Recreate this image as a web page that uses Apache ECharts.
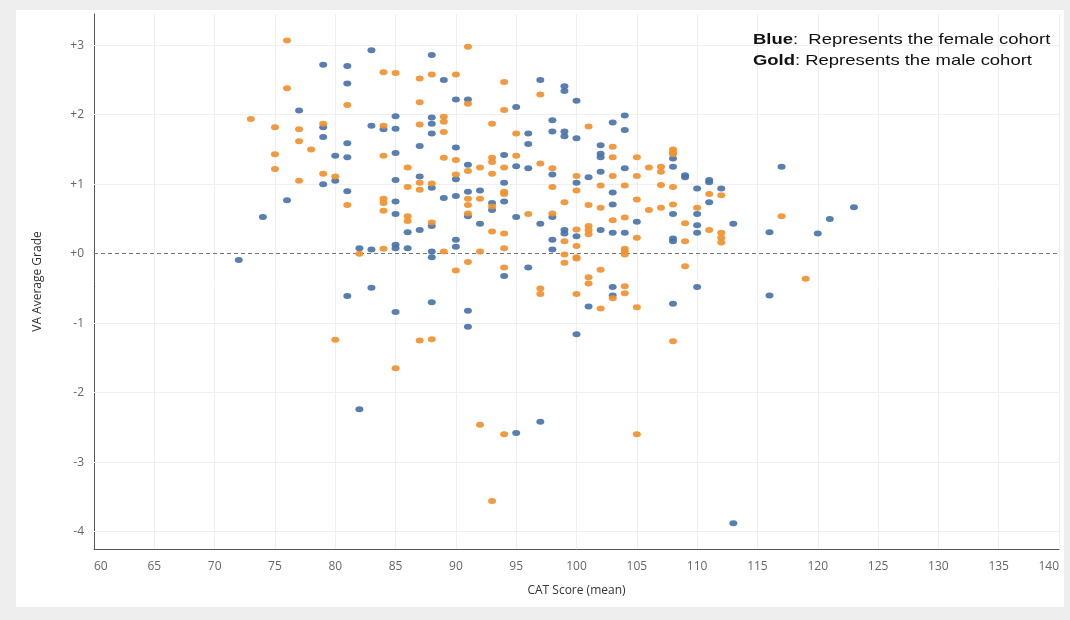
<!DOCTYPE html>
<html><head><meta charset="utf-8">
<script src="https://cdn.jsdelivr.net/npm/echarts@6/dist/echarts.min.js"></script>
<style>
html,body{margin:0;padding:0;background:#eeeeee;width:1070px;height:620px;overflow:hidden}
#chart{position:absolute;left:16px;top:10px;width:1048px;height:597px;background:#fff}
</style></head><body><div id="chart"></div>
<script>
// CAT score (mean), VA average grade
const femalePoints = [
[83,2.93],[88,2.86],[79,2.72],[81,2.70],[89,2.50],[81,2.45],[90,2.22],[77,2.06],[85,1.98],[88,1.96],[88,1.87],[83,1.84],[84,1.79],[85,1.80],[79,1.82],[88,1.73],[79,1.68],[81,1.59],[87,1.55],[90,1.53],[80,1.41],[81,1.39],[85,1.45],[87,1.11],[90,1.07],
[80,1.05],[79,1.00],[85,1.06],[88,0.95],[89,0.80],[90,0.83],[81,0.90],[76,0.77],[74,0.53],[85,0.75],[85,0.57],[86,0.31],[87,0.34],[88,0.40],[90,0.20],[90,0.10],[82,0.08],[83,0.06],[85,0.13],[85,0.08],[86,0.08],[88,0.03],[88,-0.05],[72,-0.09],[83,-0.49],[81,-0.61],[88,-0.70],[85,-0.84],
[97,2.50],[99,2.41],[99,2.34],[100,2.20],[91,2.22],[95,2.11],[98,1.92],[98,1.76],[99,1.76],[99,1.69],[100,1.66],[103,1.89],[104,1.99],[104,1.78],[96,1.73],[96,1.58],[91,1.28],[94,1.42],[94,1.02],[95,1.26],[96,1.23],[98,1.14],[100,1.02],[101,1.10],[102,1.56],[102,1.44],[102,1.39],[102,1.18],[103,0.88],[104,1.23],[108,1.37],[108,1.25],[91,0.89],[92,0.91],
[91,0.54],[93,0.73],[93,0.63],[92,0.43],[94,0.75],[95,0.53],[97,0.43],[98,0.53],[99,0.34],[99,0.29],[98,0.20],[98,0.06],[100,0.25],[102,0.34],[103,0.71],[103,0.30],[104,0.30],[105,0.46],[108,0.57],[108,0.22],[108,0.18],[94,-0.32],[96,-0.20],[103,-0.48],[103,-0.60],[101,-0.76],[108,-0.72],[91,-0.82],[91,-1.05],
[109,1.13],[109,1.10],[111,1.06],[111,1.03],[112,0.94],[110,0.94],[111,0.74],[110,0.57],[110,0.41],[110,0.30],[113,0.43],[117,1.25],[116,0.31],[120,0.29],[121,0.50],[123,0.67],
[110,-0.48],[116,-0.60],[82,-2.24],[95,-2.58],[97,-2.42],[100,-1.16],[113,-3.88]
];
const malePoints = [
[76,3.07],[84,2.61],[85,2.60],[87,2.52],[88,2.58],[90,2.58],[76,2.38],[87,2.18],[81,2.14],[73,1.94],[89,1.97],[89,1.90],[87,1.86],[84,1.84],[79,1.87],[75,1.82],[77,1.79],[89,1.75],[77,1.62],[78,1.50],[75,1.43],[84,1.41],[89,1.38],[90,1.35],[86,1.24],[75,1.22],[90,1.14],[79,1.15],[80,1.11],
[77,1.05],[86,0.96],[87,1.02],[87,0.92],[88,1.01],[81,0.70],[84,0.79],[84,0.73],[84,0.62],[86,0.54],[86,0.47],[88,0.45],[90,-0.24],[82,0.00],[84,0.07],[89,0.03],
[91,2.98],[94,2.47],[97,2.29],[91,2.16],[94,2.07],[93,1.87],[101,1.83],[95,1.73],[91,1.19],[92,1.24],[93,1.38],[93,1.32],[93,1.15],[94,1.24],[94,0.89],[94,0.86],[95,1.41],[97,1.30],[98,1.23],[98,0.96],[100,1.12],[100,0.91],[103,1.54],[103,1.39],[103,1.12],[102,0.98],[104,0.98],[105,1.39],[105,1.12],[106,1.24],[107,1.25],[107,1.18],[107,0.99],[108,1.50],[108,1.46],[108,1.43],[108,0.96],[91,0.79],[92,0.79],[105,0.78],
[91,0.70],[91,0.58],[93,0.68],[93,0.32],[94,0.29],[94,0.08],[96,0.57],[98,0.58],[99,0.74],[99,0.18],[99,-0.01],[99,-0.13],[100,0.35],[100,0.11],[100,-0.05],[100,-0.07],[101,0.70],[101,0.40],[101,0.34],[101,0.28],[102,0.66],[103,0.48],[104,0.52],[105,0.23],[106,0.63],[107,0.66],[108,0.71],[104,0.07],[104,0.03],[104,-0.01],[92,0.03],[91,-0.12],[94,-0.20],[97,-0.50],[97,-0.58],[100,-0.58],[101,-0.34],[101,-0.43],[102,-0.23],[103,-0.64],[104,-0.47],[104,-0.57],[102,-0.79],[105,-0.77],
[111,0.86],[112,0.84],[110,0.66],[109,0.44],[111,0.34],[112,0.30],[112,0.23],[112,0.16],[109,0.18],[117,0.54],
[109,-0.18],[108,-1.26],[119,-0.36],
[80,-1.24],[87,-1.25],[88,-1.23],[85,-1.65],[92,-2.46],[94,-2.60],[93,-3.56],[105,-2.60]
];
const yGridValues = [-4,-3,-2,-1,1,2,3];
const zeroLineValue = 0;
const legendLines = ['{b|Blue}:  Represents the female cohort', '{b|Gold}: Represents the male cohort'];

const OX = 16, OY = 10;
const chart = echarts.init(document.getElementById('chart'));
const isInt = v => Math.abs(v - Math.round(v)) < 1e-9;
const fmtY = v => {
  if (!isInt(v)) return '';
  const r = Math.round(v);
  return r >= 0 ? '+' + r : String(r);
};
const labelFont = 'Open Sans';
chart.setOption({
  animation: false,
  grid: { left: 94 - OX, right: 1064 - 1059, top: 14 - OY, bottom: 607 - 549, containLabel: false, outerBoundsMode: 'none' },
  xAxis: {
    type: 'value', min: 60, max: 140, interval: 5,
    axisLine: { show: true, onZero: false, lineStyle: { color: '#555', width: 1 } },
    axisTick: { show: false },
    splitLine: { show: true, lineStyle: { color: '#efefef', width: 1 } },
    axisLabel: { color: '#666', fontSize: 12, margin: 12, fontFamily: labelFont, alignMinLabel: 'left', alignMaxLabel: 'right' },
    name: 'CAT Score (mean)', nameLocation: 'middle', nameGap: 36,
    nameTextStyle: { color: '#333', fontSize: 12, fontFamily: labelFont }
  },
  yAxis: {
    type: 'value', min: -4.25, max: 3.45, interval: 0.25,
    axisLine: { show: true, onZero: false, lineStyle: { color: '#555', width: 1 } },
    axisTick: { show: false },
    splitLine: { show: false },
    axisLabel: { color: '#666', fontSize: 12, margin: 10, fontFamily: labelFont, formatter: fmtY, showMinLabel: true, showMaxLabel: true },
    name: 'VA Average Grade', nameLocation: 'middle', nameGap: 50, nameRotate: 90,
    nameTextStyle: { color: '#333', fontSize: 12, fontFamily: labelFont }
  },
  graphic: legendLines.map((t, i) => ({
    type: 'text', x: 753 - OX, y: 32 - OY + i * 21, scaleX: 1.23, z: 100,
    style: {
      text: t, fill: '#111', fontSize: 15, fontFamily: 'Liberation Sans', verticalAlign: 'top', align: 'left',
      rich: { b: { fontWeight: 'bold', fontSize: 15, fontFamily: 'Liberation Sans', fill: '#111' } }
    }
  })),
  series: [
    {
      type: 'scatter', data: [], silent: true, z: 1,
      markLine: {
        silent: true, z: 1, symbol: 'none', label: { show: false }, animation: false,
        lineStyle: { color: '#efefef', type: 'solid', width: 1 },
        data: yGridValues.map(v => ({ yAxis: v }))
      }
    },
    {
      type: 'scatter', data: [], silent: true, z: 1,
      markLine: {
        silent: true, z: 1, symbol: 'none', label: { show: false }, animation: false,
        lineStyle: { color: '#777', type: [4, 3], width: 1.2 },
        data: [{ yAxis: zeroLineValue }]
      }
    },
    {
      name: 'Female', type: 'scatter', data: femalePoints, z: 3,
      symbol: 'circle', symbolSize: [8, 6],
      itemStyle: { color: '#4a74a8', opacity: 0.92 }
    },
    {
      name: 'Male', type: 'scatter', data: malePoints, z: 4,
      symbol: 'circle', symbolSize: [8, 6],
      itemStyle: { color: '#f0912f', opacity: 0.92 }
    }
  ]
});
</script></body></html>
